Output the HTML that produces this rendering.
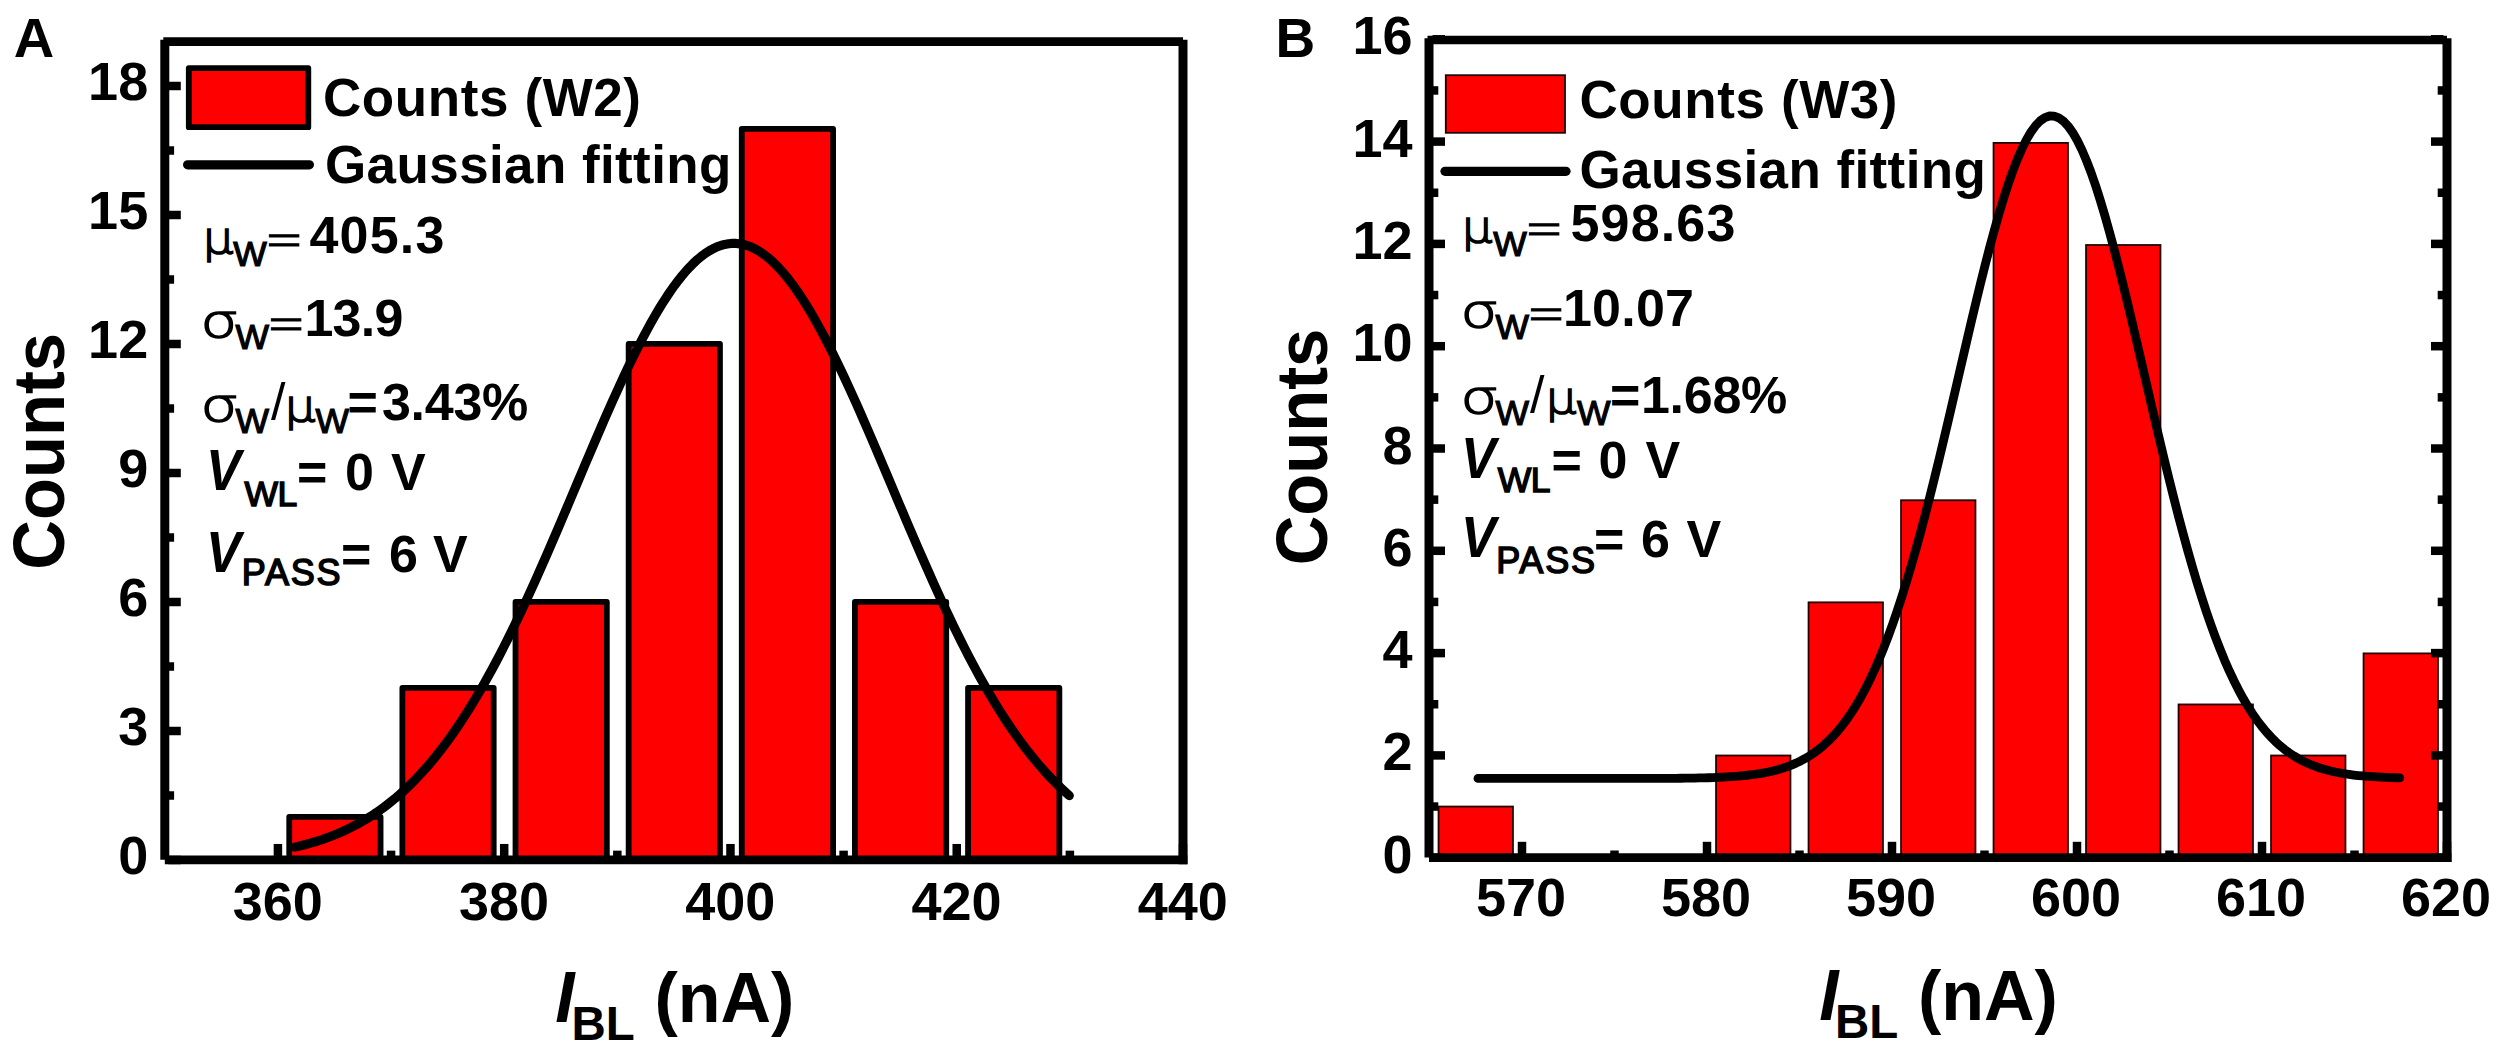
<!DOCTYPE html>
<html lang="en"><head><meta charset="utf-8"><title>Histogram of I_BL counts with Gaussian fitting</title>
<style>
html,body{margin:0;padding:0;background:#fff;}
body{width:2500px;height:1041px;overflow:hidden;}
svg{display:block;}
text{fill:#000;}
</style></head><body>
<svg width="2500" height="1041" viewBox="0 0 2500 1041">
<rect x="0" y="0" width="2500" height="1041" fill="#ffffff"/>
<rect x="289.25" y="816.90" width="91.31" height="43.10" fill="#ff0000" stroke="#000" stroke-width="5.8" stroke-linejoin="round"/>
<rect x="402.38" y="687.90" width="91.31" height="172.10" fill="#ff0000" stroke="#000" stroke-width="5.8" stroke-linejoin="round"/>
<rect x="515.51" y="601.90" width="91.31" height="258.10" fill="#ff0000" stroke="#000" stroke-width="5.8" stroke-linejoin="round"/>
<rect x="628.65" y="343.90" width="91.31" height="516.10" fill="#ff0000" stroke="#000" stroke-width="5.8" stroke-linejoin="round"/>
<rect x="741.78" y="128.90" width="91.31" height="731.10" fill="#ff0000" stroke="#000" stroke-width="5.8" stroke-linejoin="round"/>
<rect x="854.91" y="601.90" width="91.31" height="258.10" fill="#ff0000" stroke="#000" stroke-width="5.8" stroke-linejoin="round"/>
<rect x="968.05" y="687.90" width="91.31" height="172.10" fill="#ff0000" stroke="#000" stroke-width="5.8" stroke-linejoin="round"/>
<polyline points="294.90,847.11 298.78,846.21 302.65,845.25 306.52,844.23 310.39,843.15 314.26,842.01 318.14,840.80 322.01,839.53 325.88,838.18 329.75,836.76 333.62,835.26 337.50,833.68 341.37,832.01 345.24,830.26 349.11,828.42 352.98,826.48 356.86,824.45 360.73,822.31 364.60,820.07 368.47,817.73 372.34,815.27 376.22,812.70 380.09,810.01 383.96,807.20 387.83,804.26 391.70,801.20 395.58,798.01 399.45,794.68 403.32,791.22 407.19,787.61 411.06,783.86 414.93,779.97 418.81,775.93 422.68,771.73 426.55,767.39 430.42,762.88 434.29,758.22 438.17,753.40 442.04,748.42 445.91,743.28 449.78,737.97 453.65,732.50 457.53,726.86 461.40,721.06 465.27,715.09 469.14,708.96 473.01,702.66 476.89,696.20 480.76,689.58 484.63,682.79 488.50,675.85 492.37,668.74 496.25,661.49 500.12,654.08 503.99,646.52 507.86,638.82 511.73,630.98 515.61,623.01 519.48,614.91 523.35,606.68 527.22,598.33 531.09,589.87 534.97,581.30 538.84,572.63 542.71,563.88 546.58,555.04 550.45,546.12 554.33,537.14 558.20,528.11 562.07,519.02 565.94,509.90 569.81,500.75 573.69,491.58 577.56,482.40 581.43,473.23 585.30,464.08 589.17,454.95 593.05,445.86 596.92,436.82 600.79,427.85 604.66,418.95 608.53,410.13 612.41,401.42 616.28,392.82 620.15,384.35 624.02,376.01 627.89,367.82 631.77,359.80 635.64,351.95 639.51,344.29 643.38,336.82 647.25,329.57 651.13,322.55 655.00,315.75 658.87,309.20 662.74,302.91 666.61,296.89 670.49,291.14 674.36,285.68 678.23,280.52 682.10,275.66 685.97,271.12 689.85,266.90 693.72,263.01 697.59,259.45 701.46,256.24 705.33,253.37 709.21,250.86 713.08,248.70 716.95,246.91 720.82,245.48 724.69,244.42 728.57,243.73 732.44,243.41 736.31,243.45 740.18,243.87 744.05,244.66 747.93,245.82 751.80,247.35 755.67,249.24 759.54,251.49 763.41,254.10 767.29,257.06 771.16,260.36 775.03,264.01 778.90,267.99 782.77,272.29 786.65,276.92 790.52,281.86 794.39,287.10 798.26,292.64 802.13,298.46 806.01,304.56 809.88,310.92 813.75,317.53 817.62,324.39 821.49,331.47 825.37,338.78 829.24,346.30 833.11,354.01 836.98,361.91 840.85,369.98 844.73,378.21 848.60,386.58 852.47,395.09 856.34,403.72 860.21,412.46 864.09,421.30 867.96,430.22 871.83,439.21 875.70,448.26 879.57,457.37 883.45,466.50 887.32,475.66 891.19,484.83 895.06,494.01 898.93,503.17 902.81,512.32 906.68,521.43 910.55,530.51 914.42,539.53 918.29,548.49 922.17,557.39 926.04,566.21 929.91,574.94 933.78,583.58 937.65,592.12 941.53,600.55 945.40,608.87 949.27,617.07 953.14,625.14 957.01,633.08 960.89,640.88 964.76,648.54 968.63,656.06 972.50,663.43 976.37,670.64 980.25,677.70 984.12,684.61 987.99,691.35 991.86,697.93 995.73,704.35 999.61,710.60 1003.48,716.69 1007.35,722.62 1011.22,728.37 1015.09,733.97 1018.97,739.39 1022.84,744.66 1026.71,749.76 1030.58,754.70 1034.45,759.47 1038.33,764.09 1042.20,768.55 1046.07,772.86 1049.94,777.01 1053.81,781.02 1057.69,784.87 1061.56,788.58 1065.43,792.15 1069.30,795.58" fill="none" stroke="#000" stroke-width="9.2" stroke-linecap="round" stroke-linejoin="round"/>
<line x1="164.80" y1="39.85" x2="164.80" y2="859.80" stroke="#000" stroke-width="9.0" stroke-linecap="butt"/>
<line x1="1183.00" y1="39.85" x2="1183.00" y2="864.15" stroke="#000" stroke-width="9.0" stroke-linecap="butt"/>
<line x1="163.30" y1="41.70" x2="1183.00" y2="41.70" stroke="#000" stroke-width="8.7" stroke-linecap="butt"/>
<line x1="164.80" y1="859.80" x2="1187.50" y2="859.80" stroke="#000" stroke-width="8.7" stroke-linecap="butt"/>
<line x1="168.30" y1="860.00" x2="180.80" y2="860.00" stroke="#000" stroke-width="8.5" stroke-linecap="butt"/>
<line x1="168.30" y1="731.00" x2="180.80" y2="731.00" stroke="#000" stroke-width="8.5" stroke-linecap="butt"/>
<line x1="168.30" y1="602.00" x2="180.80" y2="602.00" stroke="#000" stroke-width="8.5" stroke-linecap="butt"/>
<line x1="168.30" y1="473.00" x2="180.80" y2="473.00" stroke="#000" stroke-width="8.5" stroke-linecap="butt"/>
<line x1="168.30" y1="344.00" x2="180.80" y2="344.00" stroke="#000" stroke-width="8.5" stroke-linecap="butt"/>
<line x1="168.30" y1="215.00" x2="180.80" y2="215.00" stroke="#000" stroke-width="8.5" stroke-linecap="butt"/>
<line x1="168.30" y1="86.00" x2="180.80" y2="86.00" stroke="#000" stroke-width="8.5" stroke-linecap="butt"/>
<line x1="168.30" y1="795.50" x2="174.10" y2="795.50" stroke="#000" stroke-width="8.5" stroke-linecap="butt"/>
<line x1="168.30" y1="666.50" x2="174.10" y2="666.50" stroke="#000" stroke-width="8.5" stroke-linecap="butt"/>
<line x1="168.30" y1="537.50" x2="174.10" y2="537.50" stroke="#000" stroke-width="8.5" stroke-linecap="butt"/>
<line x1="168.30" y1="408.50" x2="174.10" y2="408.50" stroke="#000" stroke-width="8.5" stroke-linecap="butt"/>
<line x1="168.30" y1="279.50" x2="174.10" y2="279.50" stroke="#000" stroke-width="8.5" stroke-linecap="butt"/>
<line x1="168.30" y1="150.50" x2="174.10" y2="150.50" stroke="#000" stroke-width="8.5" stroke-linecap="butt"/>
<line x1="277.93" y1="856.45" x2="277.93" y2="843.95" stroke="#000" stroke-width="8.5" stroke-linecap="butt"/>
<line x1="504.20" y1="856.45" x2="504.20" y2="843.95" stroke="#000" stroke-width="8.5" stroke-linecap="butt"/>
<line x1="730.47" y1="856.45" x2="730.47" y2="843.95" stroke="#000" stroke-width="8.5" stroke-linecap="butt"/>
<line x1="956.73" y1="856.45" x2="956.73" y2="843.95" stroke="#000" stroke-width="8.5" stroke-linecap="butt"/>
<line x1="1183.00" y1="856.45" x2="1183.00" y2="843.95" stroke="#000" stroke-width="8.5" stroke-linecap="butt"/>
<line x1="391.07" y1="856.45" x2="391.07" y2="850.65" stroke="#000" stroke-width="8.5" stroke-linecap="butt"/>
<line x1="617.33" y1="856.45" x2="617.33" y2="850.65" stroke="#000" stroke-width="8.5" stroke-linecap="butt"/>
<line x1="843.60" y1="856.45" x2="843.60" y2="850.65" stroke="#000" stroke-width="8.5" stroke-linecap="butt"/>
<line x1="1069.87" y1="856.45" x2="1069.87" y2="850.65" stroke="#000" stroke-width="8.5" stroke-linecap="butt"/>
<text transform="translate(148.20 874.00) scale(1.0 1.0)" font-size="54" font-weight="bold" font-style="normal" text-anchor="end" font-family='"Liberation Sans", Arial, Helvetica, sans-serif' >0</text>
<text transform="translate(148.20 745.00) scale(1.0 1.0)" font-size="54" font-weight="bold" font-style="normal" text-anchor="end" font-family='"Liberation Sans", Arial, Helvetica, sans-serif' >3</text>
<text transform="translate(148.20 616.00) scale(1.0 1.0)" font-size="54" font-weight="bold" font-style="normal" text-anchor="end" font-family='"Liberation Sans", Arial, Helvetica, sans-serif' >6</text>
<text transform="translate(148.20 487.00) scale(1.0 1.0)" font-size="54" font-weight="bold" font-style="normal" text-anchor="end" font-family='"Liberation Sans", Arial, Helvetica, sans-serif' >9</text>
<text transform="translate(148.20 358.00) scale(1.0 1.0)" font-size="54" font-weight="bold" font-style="normal" text-anchor="end" font-family='"Liberation Sans", Arial, Helvetica, sans-serif' >12</text>
<text transform="translate(148.20 229.00) scale(1.0 1.0)" font-size="54" font-weight="bold" font-style="normal" text-anchor="end" font-family='"Liberation Sans", Arial, Helvetica, sans-serif' >15</text>
<text transform="translate(148.20 100.00) scale(1.0 1.0)" font-size="54" font-weight="bold" font-style="normal" text-anchor="end" font-family='"Liberation Sans", Arial, Helvetica, sans-serif' >18</text>
<text transform="translate(277.73 920.00) scale(1.0 1.0)" font-size="54" font-weight="bold" font-style="normal" text-anchor="middle" font-family='"Liberation Sans", Arial, Helvetica, sans-serif' >360</text>
<text transform="translate(504.00 920.00) scale(1.0 1.0)" font-size="54" font-weight="bold" font-style="normal" text-anchor="middle" font-family='"Liberation Sans", Arial, Helvetica, sans-serif' >380</text>
<text transform="translate(730.27 920.00) scale(1.0 1.0)" font-size="54" font-weight="bold" font-style="normal" text-anchor="middle" font-family='"Liberation Sans", Arial, Helvetica, sans-serif' >400</text>
<text transform="translate(956.53 920.00) scale(1.0 1.0)" font-size="54" font-weight="bold" font-style="normal" text-anchor="middle" font-family='"Liberation Sans", Arial, Helvetica, sans-serif' >420</text>
<text transform="translate(1182.80 920.00) scale(1.0 1.0)" font-size="54" font-weight="bold" font-style="normal" text-anchor="middle" font-family='"Liberation Sans", Arial, Helvetica, sans-serif' >440</text>
<text transform="translate(63.8,451.3) rotate(-90) scale(0.955 1)" font-size="72" font-weight="bold" text-anchor="middle" font-family='"Liberation Sans", Arial, Helvetica, sans-serif'>Counts</text>
<text transform="translate(555.20 1021.60) scale(0.96 1.0)" font-size="72.5" font-weight="bold" font-style="italic" text-anchor="start" font-family='"Liberation Sans", Arial, Helvetica, sans-serif' >I</text>
<text transform="translate(571.50 1040.00) scale(1.0 1.0)" font-size="47.5" font-weight="bold" font-style="normal" text-anchor="start" font-family='"Liberation Sans", Arial, Helvetica, sans-serif' >BL</text>
<text transform="translate(654.50 1021.60) scale(1.0 1.0)" font-size="70" font-weight="bold" font-style="normal" text-anchor="start" font-family='"Liberation Sans", Arial, Helvetica, sans-serif' >(nA)</text>
<text transform="translate(13.80 57.40) scale(1.0 1.0)" font-size="56" font-weight="bold" font-style="normal" text-anchor="start" font-family='"Liberation Sans", Arial, Helvetica, sans-serif' >A</text>
<rect x="188.8" y="68.2" width="119.5" height="59" fill="#ff0000" stroke="#000" stroke-width="5.8" stroke-linejoin="round"/>
<line x1="187.60" y1="164.80" x2="309.40" y2="164.80" stroke="#000" stroke-width="9.2" stroke-linecap="round"/>
<text transform="translate(323.00 115.90) scale(1.0 1.025)" font-size="53" font-weight="bold" font-style="normal" text-anchor="start" font-family='"Liberation Sans", Arial, Helvetica, sans-serif' letter-spacing="0.6">Counts (W2)</text>
<text transform="translate(325.00 182.60) scale(1.0 1.025)" font-size="53" font-weight="bold" font-style="normal" text-anchor="start" font-family='"Liberation Sans", Arial, Helvetica, sans-serif' letter-spacing="0.4">Gaussian fitting</text>
<text transform="translate(202.80 253.00) scale(1.05 0.96)" font-size="46" font-weight="200" font-style="normal" text-anchor="start" font-family='"DejaVu Sans", "Liberation Sans", sans-serif' stroke="#000" stroke-width="1.8" >μ</text>
<text transform="translate(233.30 265.80) scale(1.0 1.0)" font-size="35.5" font-weight="normal" font-style="normal" text-anchor="start" font-family='"Liberation Sans", Arial, Helvetica, sans-serif' stroke="#000" stroke-width="1.2" >W</text>
<text transform="translate(264.28 258.40) scale(1.03 1.25)" font-size="46" font-weight="200" font-style="normal" text-anchor="start" font-family='"DejaVu Sans", "Liberation Sans", sans-serif' stroke="#000" stroke-width="0.8" >=</text>
<text transform="translate(309.50 252.50) scale(1.0 1.0)" font-size="52" font-weight="bold" font-style="normal" text-anchor="start" font-family='"Liberation Sans", Arial, Helvetica, sans-serif' letter-spacing="1.2">405.3</text>
<text transform="translate(200.60 336.80) scale(1.3 1.0)" font-size="46" font-weight="200" font-style="normal" text-anchor="start" font-family='"DejaVu Sans", "Liberation Sans", sans-serif' stroke="#000" stroke-width="1.5" >σ</text>
<text transform="translate(235.50 348.80) scale(1.0 1.0)" font-size="35.5" font-weight="normal" font-style="normal" text-anchor="start" font-family='"Liberation Sans", Arial, Helvetica, sans-serif' stroke="#000" stroke-width="1.2" >W</text>
<text transform="translate(266.18 341.90) scale(1.03 1.25)" font-size="46" font-weight="200" font-style="normal" text-anchor="start" font-family='"DejaVu Sans", "Liberation Sans", sans-serif' stroke="#000" stroke-width="0.8" >=</text>
<text transform="translate(304.50 336.00) scale(1.0 1.0)" font-size="52" font-weight="bold" font-style="normal" text-anchor="start" font-family='"Liberation Sans", Arial, Helvetica, sans-serif' letter-spacing="-0.8">13.9</text>
<text transform="translate(200.60 420.50) scale(1.3 1.0)" font-size="46" font-weight="200" font-style="normal" text-anchor="start" font-family='"DejaVu Sans", "Liberation Sans", sans-serif' stroke="#000" stroke-width="1.5" >σ</text>
<text transform="translate(235.50 432.80) scale(1.0 1.0)" font-size="35.5" font-weight="normal" font-style="normal" text-anchor="start" font-family='"Liberation Sans", Arial, Helvetica, sans-serif' stroke="#000" stroke-width="1.2" >W</text>
<text transform="translate(271.00 420.00) scale(1.0 1.0)" font-size="52" font-weight="normal" font-style="normal" text-anchor="start" font-family='"Liberation Sans", Arial, Helvetica, sans-serif' >/</text>
<text transform="translate(284.80 420.50) scale(1.05 0.96)" font-size="46" font-weight="200" font-style="normal" text-anchor="start" font-family='"DejaVu Sans", "Liberation Sans", sans-serif' stroke="#000" stroke-width="1.8" >μ</text>
<text transform="translate(315.50 432.80) scale(1.0 1.0)" font-size="35.5" font-weight="normal" font-style="normal" text-anchor="start" font-family='"Liberation Sans", Arial, Helvetica, sans-serif' stroke="#000" stroke-width="1.2" >W</text>
<text transform="translate(347.50 420.00) scale(1.0 1.0)" font-size="52" font-weight="bold" font-style="normal" text-anchor="start" font-family='"Liberation Sans", Arial, Helvetica, sans-serif' letter-spacing="0">=</text>
<text transform="translate(382.00 420.00) scale(1.0 1.0)" font-size="52" font-weight="bold" font-style="normal" text-anchor="start" font-family='"Liberation Sans", Arial, Helvetica, sans-serif' letter-spacing="-0.3">3.43%</text>
<text transform="translate(206.00 490.00) scale(0.92 1.0)" font-size="57" font-weight="bold" font-style="italic" text-anchor="start" font-family='"Liberation Sans", Arial, Helvetica, sans-serif' >V</text>
<text transform="translate(244.50 506.30) scale(1.0 1.0)" font-size="35.5" font-weight="normal" font-style="normal" text-anchor="start" font-family='"Liberation Sans", Arial, Helvetica, sans-serif' stroke="#000" stroke-width="1.5" letter-spacing="-0.5">WL</text>
<text transform="translate(297.00 490.00) scale(1.0 1.0)" font-size="52" font-weight="bold" font-style="normal" text-anchor="start" font-family='"Liberation Sans", Arial, Helvetica, sans-serif' letter-spacing="0">=</text>
<text transform="translate(345.00 490.00) scale(1.0 1.0)" font-size="52" font-weight="bold" font-style="normal" text-anchor="start" font-family='"Liberation Sans", Arial, Helvetica, sans-serif' letter-spacing="0">0</text>
<text transform="translate(391.00 490.00) scale(1.0 1.0)" font-size="52" font-weight="bold" font-style="normal" text-anchor="start" font-family='"Liberation Sans", Arial, Helvetica, sans-serif' letter-spacing="0">V</text>
<text transform="translate(206.00 571.60) scale(0.92 1.0)" font-size="57" font-weight="bold" font-style="italic" text-anchor="start" font-family='"Liberation Sans", Arial, Helvetica, sans-serif' >V</text>
<text transform="translate(241.80 585.20) scale(1.0 1.0)" font-size="36" font-weight="normal" font-style="normal" text-anchor="start" font-family='"Liberation Sans", Arial, Helvetica, sans-serif' stroke="#000" stroke-width="1.5" letter-spacing="1.8">PASS</text>
<text transform="translate(341.00 571.60) scale(1.0 1.0)" font-size="52" font-weight="bold" font-style="normal" text-anchor="start" font-family='"Liberation Sans", Arial, Helvetica, sans-serif' letter-spacing="0">=</text>
<text transform="translate(389.00 571.60) scale(1.0 1.0)" font-size="52" font-weight="bold" font-style="normal" text-anchor="start" font-family='"Liberation Sans", Arial, Helvetica, sans-serif' letter-spacing="0">6</text>
<text transform="translate(433.00 571.60) scale(1.0 1.0)" font-size="52" font-weight="bold" font-style="normal" text-anchor="start" font-family='"Liberation Sans", Arial, Helvetica, sans-serif' letter-spacing="0">V</text>
<rect x="1438.55" y="806.55" width="74.40" height="51.05" fill="#ff0000" stroke="#200000" stroke-width="1.8"/>
<rect x="1716.05" y="755.50" width="74.40" height="102.10" fill="#ff0000" stroke="#200000" stroke-width="1.8"/>
<rect x="1808.55" y="602.35" width="74.40" height="255.25" fill="#ff0000" stroke="#200000" stroke-width="1.8"/>
<rect x="1901.05" y="500.25" width="74.40" height="357.35" fill="#ff0000" stroke="#200000" stroke-width="1.8"/>
<rect x="1993.55" y="142.90" width="74.40" height="714.70" fill="#ff0000" stroke="#200000" stroke-width="1.8"/>
<rect x="2086.05" y="245.00" width="74.40" height="612.60" fill="#ff0000" stroke="#200000" stroke-width="1.8"/>
<rect x="2178.55" y="704.45" width="74.40" height="153.15" fill="#ff0000" stroke="#200000" stroke-width="1.8"/>
<rect x="2271.05" y="755.50" width="74.40" height="102.10" fill="#ff0000" stroke="#200000" stroke-width="1.8"/>
<rect x="2363.55" y="653.40" width="74.40" height="204.20" fill="#ff0000" stroke="#200000" stroke-width="1.8"/>
<polyline points="1477.97,778.47 1482.58,778.47 1487.19,778.47 1491.80,778.47 1496.41,778.47 1501.02,778.47 1505.63,778.47 1510.23,778.47 1514.84,778.47 1519.45,778.47 1524.06,778.47 1528.67,778.47 1533.28,778.47 1537.89,778.47 1542.50,778.47 1547.11,778.47 1551.72,778.47 1556.33,778.47 1560.94,778.47 1565.55,778.47 1570.16,778.47 1574.76,778.47 1579.37,778.47 1583.98,778.47 1588.59,778.47 1593.20,778.47 1597.81,778.47 1602.42,778.47 1607.03,778.47 1611.64,778.46 1616.25,778.46 1620.86,778.46 1625.47,778.45 1630.08,778.45 1634.69,778.44 1639.29,778.44 1643.90,778.43 1648.51,778.42 1653.12,778.40 1657.73,778.39 1662.34,778.37 1666.95,778.34 1671.56,778.31 1676.17,778.28 1680.78,778.23 1685.39,778.18 1690.00,778.12 1694.61,778.05 1699.22,777.96 1703.82,777.85 1708.43,777.73 1713.04,777.58 1717.65,777.40 1722.26,777.20 1726.87,776.95 1731.48,776.67 1736.09,776.34 1740.70,775.95 1745.31,775.50 1749.92,774.98 1754.53,774.38 1759.14,773.69 1763.75,772.89 1768.35,771.98 1772.96,770.93 1777.57,769.74 1782.18,768.38 1786.79,766.84 1791.40,765.10 1796.01,763.14 1800.62,760.93 1805.23,758.45 1809.84,755.68 1814.45,752.59 1819.06,749.15 1823.67,745.33 1828.27,741.11 1832.88,736.45 1837.49,731.33 1842.10,725.72 1846.71,719.58 1851.32,712.88 1855.93,705.61 1860.54,697.72 1865.15,689.20 1869.76,680.02 1874.37,670.17 1878.98,659.62 1883.59,648.36 1888.20,636.38 1892.80,623.68 1897.41,610.26 1902.02,596.12 1906.63,581.27 1911.24,565.74 1915.85,549.54 1920.46,532.72 1925.07,515.30 1929.68,497.34 1934.29,478.89 1938.90,460.00 1943.51,440.76 1948.12,421.22 1952.73,401.48 1957.33,381.63 1961.94,361.75 1966.55,341.94 1971.16,322.31 1975.77,302.97 1980.38,284.01 1984.99,265.56 1989.60,247.72 1994.21,230.60 1998.82,214.31 2003.43,198.96 2008.04,184.65 2012.65,171.48 2017.26,159.52 2021.86,148.88 2026.47,139.62 2031.08,131.81 2035.69,125.50 2040.30,120.75 2044.91,117.58 2049.52,116.02 2054.13,116.08 2058.74,117.76 2063.35,121.04 2067.96,125.91 2072.57,132.33 2077.18,140.25 2081.79,149.62 2086.39,160.36 2091.00,172.41 2095.61,185.67 2100.22,200.06 2104.83,215.48 2109.44,231.83 2114.05,249.01 2118.66,266.90 2123.27,285.39 2127.88,304.38 2132.49,323.75 2137.10,343.40 2141.71,363.21 2146.31,383.09 2150.92,402.94 2155.53,422.67 2160.14,442.18 2164.75,461.41 2169.36,480.26 2173.97,498.68 2178.58,516.60 2183.19,533.98 2187.80,550.76 2192.41,566.90 2197.02,582.39 2201.63,597.18 2206.24,611.27 2210.84,624.64 2215.45,637.29 2220.06,649.21 2224.67,660.42 2229.28,670.92 2233.89,680.72 2238.50,689.85 2243.11,698.32 2247.72,706.16 2252.33,713.39 2256.94,720.05 2261.55,726.15 2266.16,731.73 2270.77,736.81 2275.37,741.43 2279.98,745.63 2284.59,749.41 2289.20,752.83 2293.81,755.89 2298.42,758.64 2303.03,761.10 2307.64,763.29 2312.25,765.24 2316.86,766.96 2321.47,768.49 2326.08,769.83 2330.69,771.01 2335.30,772.05 2339.90,772.95 2344.51,773.74 2349.12,774.43 2353.73,775.02 2358.34,775.54 2362.95,775.98 2367.56,776.37 2372.17,776.69 2376.78,776.97 2381.39,777.21 2386.00,777.42 2390.61,777.59 2395.22,777.74 2399.83,777.86" fill="none" stroke="#000" stroke-width="8.8" stroke-linecap="round" stroke-linejoin="round"/>
<line x1="1429.00" y1="38.20" x2="1429.00" y2="857.60" stroke="#000" stroke-width="9.0" stroke-linecap="butt"/>
<line x1="2447.00" y1="38.20" x2="2447.00" y2="861.90" stroke="#000" stroke-width="9.0" stroke-linecap="butt"/>
<line x1="1427.50" y1="40.00" x2="2447.00" y2="40.00" stroke="#000" stroke-width="8.6" stroke-linecap="butt"/>
<line x1="1429.00" y1="857.60" x2="2451.50" y2="857.60" stroke="#000" stroke-width="8.6" stroke-linecap="butt"/>
<line x1="1432.50" y1="857.70" x2="1445.00" y2="857.70" stroke="#000" stroke-width="8.5" stroke-linecap="butt"/>
<line x1="2443.50" y1="857.70" x2="2431.00" y2="857.70" stroke="#000" stroke-width="8.5" stroke-linecap="butt"/>
<line x1="1432.50" y1="755.40" x2="1445.00" y2="755.40" stroke="#000" stroke-width="8.5" stroke-linecap="butt"/>
<line x1="2443.50" y1="755.40" x2="2431.00" y2="755.40" stroke="#000" stroke-width="8.5" stroke-linecap="butt"/>
<line x1="1432.50" y1="653.10" x2="1445.00" y2="653.10" stroke="#000" stroke-width="8.5" stroke-linecap="butt"/>
<line x1="2443.50" y1="653.10" x2="2431.00" y2="653.10" stroke="#000" stroke-width="8.5" stroke-linecap="butt"/>
<line x1="1432.50" y1="550.80" x2="1445.00" y2="550.80" stroke="#000" stroke-width="8.5" stroke-linecap="butt"/>
<line x1="2443.50" y1="550.80" x2="2431.00" y2="550.80" stroke="#000" stroke-width="8.5" stroke-linecap="butt"/>
<line x1="1432.50" y1="448.50" x2="1445.00" y2="448.50" stroke="#000" stroke-width="8.5" stroke-linecap="butt"/>
<line x1="2443.50" y1="448.50" x2="2431.00" y2="448.50" stroke="#000" stroke-width="8.5" stroke-linecap="butt"/>
<line x1="1432.50" y1="346.20" x2="1445.00" y2="346.20" stroke="#000" stroke-width="8.5" stroke-linecap="butt"/>
<line x1="2443.50" y1="346.20" x2="2431.00" y2="346.20" stroke="#000" stroke-width="8.5" stroke-linecap="butt"/>
<line x1="1432.50" y1="243.90" x2="1445.00" y2="243.90" stroke="#000" stroke-width="8.5" stroke-linecap="butt"/>
<line x1="2443.50" y1="243.90" x2="2431.00" y2="243.90" stroke="#000" stroke-width="8.5" stroke-linecap="butt"/>
<line x1="1432.50" y1="141.60" x2="1445.00" y2="141.60" stroke="#000" stroke-width="8.5" stroke-linecap="butt"/>
<line x1="2443.50" y1="141.60" x2="2431.00" y2="141.60" stroke="#000" stroke-width="8.5" stroke-linecap="butt"/>
<line x1="1432.50" y1="39.30" x2="1445.00" y2="39.30" stroke="#000" stroke-width="8.5" stroke-linecap="butt"/>
<line x1="2443.50" y1="39.30" x2="2431.00" y2="39.30" stroke="#000" stroke-width="8.5" stroke-linecap="butt"/>
<line x1="1432.50" y1="806.55" x2="1438.30" y2="806.55" stroke="#000" stroke-width="8.5" stroke-linecap="butt"/>
<line x1="2443.50" y1="806.55" x2="2437.70" y2="806.55" stroke="#000" stroke-width="8.5" stroke-linecap="butt"/>
<line x1="1432.50" y1="704.25" x2="1438.30" y2="704.25" stroke="#000" stroke-width="8.5" stroke-linecap="butt"/>
<line x1="2443.50" y1="704.25" x2="2437.70" y2="704.25" stroke="#000" stroke-width="8.5" stroke-linecap="butt"/>
<line x1="1432.50" y1="601.95" x2="1438.30" y2="601.95" stroke="#000" stroke-width="8.5" stroke-linecap="butt"/>
<line x1="2443.50" y1="601.95" x2="2437.70" y2="601.95" stroke="#000" stroke-width="8.5" stroke-linecap="butt"/>
<line x1="1432.50" y1="499.65" x2="1438.30" y2="499.65" stroke="#000" stroke-width="8.5" stroke-linecap="butt"/>
<line x1="2443.50" y1="499.65" x2="2437.70" y2="499.65" stroke="#000" stroke-width="8.5" stroke-linecap="butt"/>
<line x1="1432.50" y1="397.35" x2="1438.30" y2="397.35" stroke="#000" stroke-width="8.5" stroke-linecap="butt"/>
<line x1="2443.50" y1="397.35" x2="2437.70" y2="397.35" stroke="#000" stroke-width="8.5" stroke-linecap="butt"/>
<line x1="1432.50" y1="295.05" x2="1438.30" y2="295.05" stroke="#000" stroke-width="8.5" stroke-linecap="butt"/>
<line x1="2443.50" y1="295.05" x2="2437.70" y2="295.05" stroke="#000" stroke-width="8.5" stroke-linecap="butt"/>
<line x1="1432.50" y1="192.75" x2="1438.30" y2="192.75" stroke="#000" stroke-width="8.5" stroke-linecap="butt"/>
<line x1="2443.50" y1="192.75" x2="2437.70" y2="192.75" stroke="#000" stroke-width="8.5" stroke-linecap="butt"/>
<line x1="1432.50" y1="90.45" x2="1438.30" y2="90.45" stroke="#000" stroke-width="8.5" stroke-linecap="butt"/>
<line x1="2443.50" y1="90.45" x2="2437.70" y2="90.45" stroke="#000" stroke-width="8.5" stroke-linecap="butt"/>
<line x1="1522.00" y1="854.30" x2="1522.00" y2="841.80" stroke="#000" stroke-width="8.5" stroke-linecap="butt"/>
<line x1="1707.00" y1="854.30" x2="1707.00" y2="841.80" stroke="#000" stroke-width="8.5" stroke-linecap="butt"/>
<line x1="1892.00" y1="854.30" x2="1892.00" y2="841.80" stroke="#000" stroke-width="8.5" stroke-linecap="butt"/>
<line x1="2077.00" y1="854.30" x2="2077.00" y2="841.80" stroke="#000" stroke-width="8.5" stroke-linecap="butt"/>
<line x1="2262.00" y1="854.30" x2="2262.00" y2="841.80" stroke="#000" stroke-width="8.5" stroke-linecap="butt"/>
<line x1="2447.00" y1="854.30" x2="2447.00" y2="841.80" stroke="#000" stroke-width="8.5" stroke-linecap="butt"/>
<line x1="1614.50" y1="854.30" x2="1614.50" y2="850.50" stroke="#000" stroke-width="8.5" stroke-linecap="butt"/>
<line x1="1799.50" y1="854.30" x2="1799.50" y2="850.50" stroke="#000" stroke-width="8.5" stroke-linecap="butt"/>
<line x1="1984.50" y1="854.30" x2="1984.50" y2="850.50" stroke="#000" stroke-width="8.5" stroke-linecap="butt"/>
<line x1="2169.50" y1="854.30" x2="2169.50" y2="850.50" stroke="#000" stroke-width="8.5" stroke-linecap="butt"/>
<line x1="2354.50" y1="854.30" x2="2354.50" y2="850.50" stroke="#000" stroke-width="8.5" stroke-linecap="butt"/>
<text transform="translate(1412.60 872.70) scale(1.0 1.0)" font-size="54" font-weight="bold" font-style="normal" text-anchor="end" font-family='"Liberation Sans", Arial, Helvetica, sans-serif' >0</text>
<text transform="translate(1412.60 770.40) scale(1.0 1.0)" font-size="54" font-weight="bold" font-style="normal" text-anchor="end" font-family='"Liberation Sans", Arial, Helvetica, sans-serif' >2</text>
<text transform="translate(1412.60 668.10) scale(1.0 1.0)" font-size="54" font-weight="bold" font-style="normal" text-anchor="end" font-family='"Liberation Sans", Arial, Helvetica, sans-serif' >4</text>
<text transform="translate(1412.60 565.80) scale(1.0 1.0)" font-size="54" font-weight="bold" font-style="normal" text-anchor="end" font-family='"Liberation Sans", Arial, Helvetica, sans-serif' >6</text>
<text transform="translate(1412.60 463.50) scale(1.0 1.0)" font-size="54" font-weight="bold" font-style="normal" text-anchor="end" font-family='"Liberation Sans", Arial, Helvetica, sans-serif' >8</text>
<text transform="translate(1412.60 361.20) scale(1.0 1.0)" font-size="54" font-weight="bold" font-style="normal" text-anchor="end" font-family='"Liberation Sans", Arial, Helvetica, sans-serif' >10</text>
<text transform="translate(1412.60 258.90) scale(1.0 1.0)" font-size="54" font-weight="bold" font-style="normal" text-anchor="end" font-family='"Liberation Sans", Arial, Helvetica, sans-serif' >12</text>
<text transform="translate(1412.60 156.60) scale(1.0 1.0)" font-size="54" font-weight="bold" font-style="normal" text-anchor="end" font-family='"Liberation Sans", Arial, Helvetica, sans-serif' >14</text>
<text transform="translate(1412.60 54.30) scale(1.0 1.0)" font-size="54" font-weight="bold" font-style="normal" text-anchor="end" font-family='"Liberation Sans", Arial, Helvetica, sans-serif' >16</text>
<text transform="translate(1521.00 916.40) scale(1.0 1.0)" font-size="54" font-weight="bold" font-style="normal" text-anchor="middle" font-family='"Liberation Sans", Arial, Helvetica, sans-serif' >570</text>
<text transform="translate(1706.00 916.40) scale(1.0 1.0)" font-size="54" font-weight="bold" font-style="normal" text-anchor="middle" font-family='"Liberation Sans", Arial, Helvetica, sans-serif' >580</text>
<text transform="translate(1891.00 916.40) scale(1.0 1.0)" font-size="54" font-weight="bold" font-style="normal" text-anchor="middle" font-family='"Liberation Sans", Arial, Helvetica, sans-serif' >590</text>
<text transform="translate(2076.00 916.40) scale(1.0 1.0)" font-size="54" font-weight="bold" font-style="normal" text-anchor="middle" font-family='"Liberation Sans", Arial, Helvetica, sans-serif' >600</text>
<text transform="translate(2261.00 916.40) scale(1.0 1.0)" font-size="54" font-weight="bold" font-style="normal" text-anchor="middle" font-family='"Liberation Sans", Arial, Helvetica, sans-serif' >610</text>
<text transform="translate(2446.00 916.40) scale(1.0 1.0)" font-size="54" font-weight="bold" font-style="normal" text-anchor="middle" font-family='"Liberation Sans", Arial, Helvetica, sans-serif' >620</text>
<text transform="translate(1326.8,447) rotate(-90) scale(0.955 1)" font-size="72" font-weight="bold" text-anchor="middle" font-family='"Liberation Sans", Arial, Helvetica, sans-serif'>Counts</text>
<text transform="translate(1819.30 1019.60) scale(0.96 1.0)" font-size="72.5" font-weight="bold" font-style="italic" text-anchor="start" font-family='"Liberation Sans", Arial, Helvetica, sans-serif' >I</text>
<text transform="translate(1835.00 1038.20) scale(1.0 1.0)" font-size="47.5" font-weight="bold" font-style="normal" text-anchor="start" font-family='"Liberation Sans", Arial, Helvetica, sans-serif' >BL</text>
<text transform="translate(1918.00 1019.60) scale(1.0 1.0)" font-size="70" font-weight="bold" font-style="normal" text-anchor="start" font-family='"Liberation Sans", Arial, Helvetica, sans-serif' >(nA)</text>
<text transform="translate(1275.50 57.30) scale(1.0 1.0)" font-size="55" font-weight="bold" font-style="normal" text-anchor="start" font-family='"Liberation Sans", Arial, Helvetica, sans-serif' >B</text>
<rect x="1445.8" y="75.2" width="119.2" height="57.6" fill="#ff0000" stroke="#200000" stroke-width="1.8"/>
<line x1="1445.00" y1="171.30" x2="1566.00" y2="171.30" stroke="#000" stroke-width="9.2" stroke-linecap="round"/>
<text transform="translate(1579.50 118.00) scale(1.0 1.025)" font-size="53" font-weight="bold" font-style="normal" text-anchor="start" font-family='"Liberation Sans", Arial, Helvetica, sans-serif' letter-spacing="0.6">Counts (W3)</text>
<text transform="translate(1579.50 188.20) scale(1.0 1.025)" font-size="53" font-weight="bold" font-style="normal" text-anchor="start" font-family='"Liberation Sans", Arial, Helvetica, sans-serif' letter-spacing="0.4">Gaussian fitting</text>
<text transform="translate(1461.80 241.70) scale(1.05 0.96)" font-size="46" font-weight="200" font-style="normal" text-anchor="start" font-family='"DejaVu Sans", "Liberation Sans", sans-serif' stroke="#000" stroke-width="1.8" >μ</text>
<text transform="translate(1493.30 256.20) scale(1.0 1.0)" font-size="35.5" font-weight="normal" font-style="normal" text-anchor="start" font-family='"Liberation Sans", Arial, Helvetica, sans-serif' stroke="#000" stroke-width="1.2" >W</text>
<text transform="translate(1524.28 247.10) scale(1.03 1.25)" font-size="46" font-weight="200" font-style="normal" text-anchor="start" font-family='"DejaVu Sans", "Liberation Sans", sans-serif' stroke="#000" stroke-width="0.8" >=</text>
<text transform="translate(1570.50 241.20) scale(1.0 1.0)" font-size="52" font-weight="bold" font-style="normal" text-anchor="start" font-family='"Liberation Sans", Arial, Helvetica, sans-serif' letter-spacing="1.15">598.63</text>
<text transform="translate(1460.60 327.00) scale(1.3 1.0)" font-size="46" font-weight="200" font-style="normal" text-anchor="start" font-family='"DejaVu Sans", "Liberation Sans", sans-serif' stroke="#000" stroke-width="1.5" >σ</text>
<text transform="translate(1495.50 339.00) scale(1.0 1.0)" font-size="35.5" font-weight="normal" font-style="normal" text-anchor="start" font-family='"Liberation Sans", Arial, Helvetica, sans-serif' stroke="#000" stroke-width="1.2" >W</text>
<text transform="translate(1526.18 332.10) scale(1.03 1.25)" font-size="46" font-weight="200" font-style="normal" text-anchor="start" font-family='"DejaVu Sans", "Liberation Sans", sans-serif' stroke="#000" stroke-width="0.8" >=</text>
<text transform="translate(1563.00 326.20) scale(1.0 1.0)" font-size="52" font-weight="bold" font-style="normal" text-anchor="start" font-family='"Liberation Sans", Arial, Helvetica, sans-serif' letter-spacing="0.2">10.07</text>
<text transform="translate(1460.60 413.00) scale(1.3 1.0)" font-size="46" font-weight="200" font-style="normal" text-anchor="start" font-family='"DejaVu Sans", "Liberation Sans", sans-serif' stroke="#000" stroke-width="1.5" >σ</text>
<text transform="translate(1495.50 425.30) scale(1.0 1.0)" font-size="35.5" font-weight="normal" font-style="normal" text-anchor="start" font-family='"Liberation Sans", Arial, Helvetica, sans-serif' stroke="#000" stroke-width="1.2" >W</text>
<text transform="translate(1530.00 412.50) scale(1.0 1.0)" font-size="52" font-weight="normal" font-style="normal" text-anchor="start" font-family='"Liberation Sans", Arial, Helvetica, sans-serif' >/</text>
<text transform="translate(1545.80 413.00) scale(1.05 0.96)" font-size="46" font-weight="200" font-style="normal" text-anchor="start" font-family='"DejaVu Sans", "Liberation Sans", sans-serif' stroke="#000" stroke-width="1.8" >μ</text>
<text transform="translate(1577.00 425.30) scale(1.0 1.0)" font-size="35.5" font-weight="normal" font-style="normal" text-anchor="start" font-family='"Liberation Sans", Arial, Helvetica, sans-serif' stroke="#000" stroke-width="1.2" >W</text>
<text transform="translate(1610.00 412.50) scale(1.0 1.0)" font-size="52" font-weight="bold" font-style="normal" text-anchor="start" font-family='"Liberation Sans", Arial, Helvetica, sans-serif' letter-spacing="0">=</text>
<text transform="translate(1641.00 412.50) scale(1.0 1.0)" font-size="52" font-weight="bold" font-style="normal" text-anchor="start" font-family='"Liberation Sans", Arial, Helvetica, sans-serif' letter-spacing="-0.3">1.68%</text>
<text transform="translate(1461.00 478.20) scale(0.92 1.0)" font-size="57" font-weight="bold" font-style="italic" text-anchor="start" font-family='"Liberation Sans", Arial, Helvetica, sans-serif' >V</text>
<text transform="translate(1497.80 492.00) scale(1.0 1.0)" font-size="35.5" font-weight="normal" font-style="normal" text-anchor="start" font-family='"Liberation Sans", Arial, Helvetica, sans-serif' stroke="#000" stroke-width="1.5" letter-spacing="-0.5">WL</text>
<text transform="translate(1551.50 478.20) scale(1.0 1.0)" font-size="52" font-weight="bold" font-style="normal" text-anchor="start" font-family='"Liberation Sans", Arial, Helvetica, sans-serif' letter-spacing="0">=</text>
<text transform="translate(1598.50 478.20) scale(1.0 1.0)" font-size="52" font-weight="bold" font-style="normal" text-anchor="start" font-family='"Liberation Sans", Arial, Helvetica, sans-serif' letter-spacing="0">0</text>
<text transform="translate(1645.50 478.20) scale(1.0 1.0)" font-size="52" font-weight="bold" font-style="normal" text-anchor="start" font-family='"Liberation Sans", Arial, Helvetica, sans-serif' letter-spacing="0">V</text>
<text transform="translate(1461.00 557.40) scale(0.92 1.0)" font-size="57" font-weight="bold" font-style="italic" text-anchor="start" font-family='"Liberation Sans", Arial, Helvetica, sans-serif' >V</text>
<text transform="translate(1496.20 573.30) scale(1.0 1.0)" font-size="36" font-weight="normal" font-style="normal" text-anchor="start" font-family='"Liberation Sans", Arial, Helvetica, sans-serif' stroke="#000" stroke-width="1.5" letter-spacing="1.8">PASS</text>
<text transform="translate(1594.00 557.40) scale(1.0 1.0)" font-size="52" font-weight="bold" font-style="normal" text-anchor="start" font-family='"Liberation Sans", Arial, Helvetica, sans-serif' letter-spacing="0">=</text>
<text transform="translate(1641.00 557.40) scale(1.0 1.0)" font-size="52" font-weight="bold" font-style="normal" text-anchor="start" font-family='"Liberation Sans", Arial, Helvetica, sans-serif' letter-spacing="0">6</text>
<text transform="translate(1686.50 557.40) scale(1.0 1.0)" font-size="52" font-weight="bold" font-style="normal" text-anchor="start" font-family='"Liberation Sans", Arial, Helvetica, sans-serif' letter-spacing="0">V</text>
</svg>
</body></html>
